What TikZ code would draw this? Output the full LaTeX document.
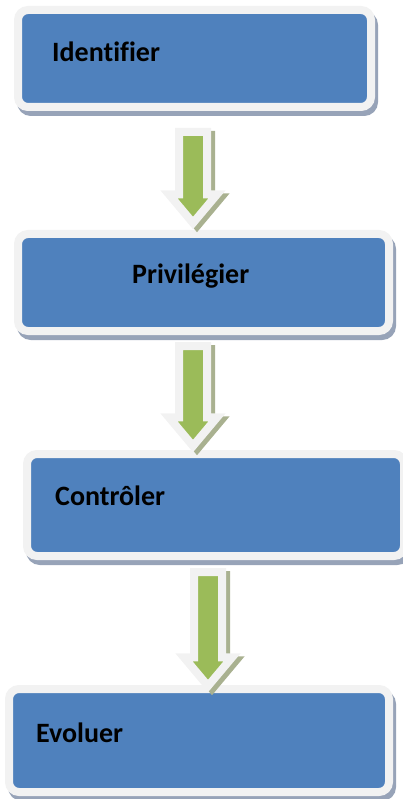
\documentclass[tikz,border=0pt]{standalone}
\usepackage{fontspec}
\setmainfont{Carlito}[Ligatures=NoCommon]
\usetikzlibrary{shapes.arrows,shadows}

\definecolor{bleu}{HTML}{4F81BD}
\definecolor{bord}{HTML}{F2F2F2}
\definecolor{ombrebleu}{HTML}{97A3B8}
\definecolor{vert}{HTML}{9BBB59}
\definecolor{ombrevert}{HTML}{A9B190}

\begin{document}
\begin{tikzpicture}[
  x=1pt, y=-1pt,
  etape/.style={rectangle, rounded corners=10pt, draw=bord, line width=8pt,
                fill=bleu, inner sep=0pt,
                general shadow={shadow xshift=3pt, shadow yshift=-5pt,
                                fill=ombrebleu, draw=ombrebleu, line width=8pt}},
  titre/.style={anchor=base west, inner sep=0pt,
                font=\bfseries\fontsize{28}{34}\selectfont},
  fleche/.style={single arrow, rotate=-90, anchor=tail, draw=bord, fill=vert,
                 line width=8pt, inner sep=0pt, inner ysep=10pt,
                 single arrow head extend=10pt, single arrow tip angle=80,
                 general shadow={shadow xshift=4pt, shadow yshift=-3pt,
                                 fill=ombrevert, draw=ombrevert, line width=8pt}}
]
  \useasboundingbox (0,0) rectangle (403,799);

  \node[etape, minimum width=353, minimum height=97] (E1) at (194.5,58.5) {};
  \node[etape, minimum width=371, minimum height=97] (E2) at (203.5,282.5) {};
  \node[etape, minimum width=377, minimum height=102] (E3) at (215.5,505) {};
  \node[etape, minimum width=380, minimum height=103] (E4) at (199,740.5) {};

  \node[titre] (T1) at (52,62) {Identifier};
  \node[titre] (T2) at (132,283) {Privilégier};
  \node[titre] (T3) at (55,505) {Contrôler};
  \node[titre] (T4) at (36,742) {Evoluer};

  \node[fleche, minimum height=91] (F1) at (193,128) {};
  \node[fleche, minimum height=100] (F2) at (193,342) {};
  \node[fleche, minimum height=114] (F3) at (208,568) {};
\end{tikzpicture}
\end{document}
